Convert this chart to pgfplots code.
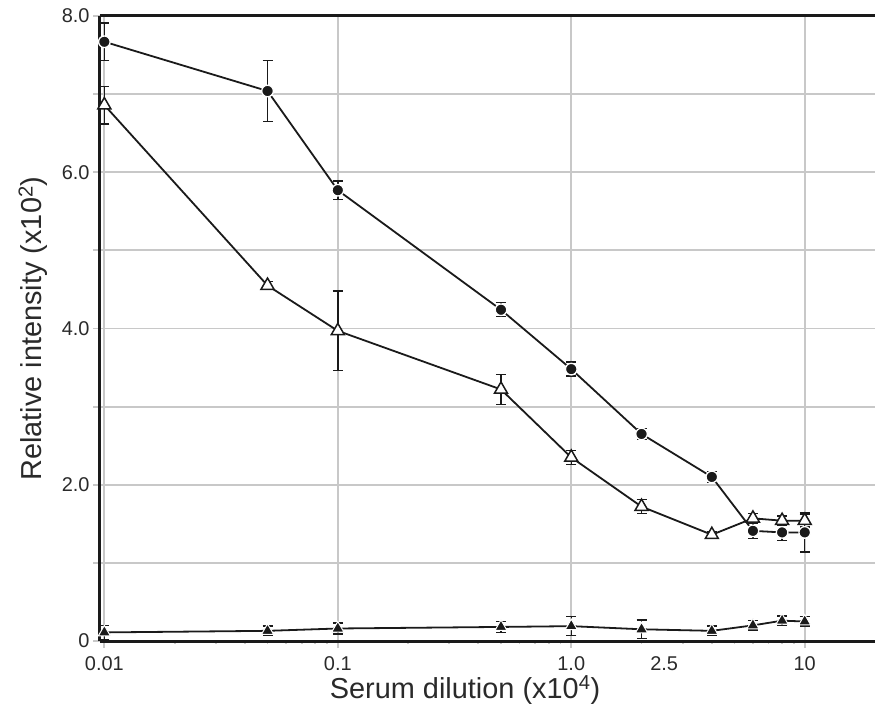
\documentclass[border=0pt]{standalone}
\usepackage{fontspec}
\setmainfont{Liberation Sans}
\usepackage{pgfplots}
\pgfplotsset{compat=1.18}
\definecolor{gridc}{HTML}{C8C8C8}
\definecolor{ink}{HTML}{1A1A1A}
\definecolor{lab}{HTML}{2A2A2A}
\begin{document}
\begin{tikzpicture}
\begin{axis}[
  name=ax,
  scale only axis, width=775bp, height=625bp,
  xmode=log, xmin=0.00958, xmax=20,
  ymin=0, ymax=8,
  axis lines*=left,
  axis line style={ink, line width=3bp},
  clip=false,
  grid=major, major grid style={gridc, line width=1.8bp},
  xtick={0.01,0.1,1,10}, xticklabels={0.01,0.1,1.0,10},
  minor xtick={}, minor ytick={},
  extra x ticks={2.5}, extra x tick labels={2.5},
  extra x tick style={grid=none, major tick style={draw=none}},
  ytick={0,1,...,8}, yticklabels={0,,2.0,,4.0,,6.0,,8.0},
  tick align=outside, major tick length=7bp,
  tick style={gridc, line width=1.8bp},
  xticklabel style={font=\fontsize{20}{23}\selectfont, text=lab, yshift=-5bp},
  yticklabel style={font=\fontsize{20}{23}\selectfont, text=lab},
  /pgf/number format/assume math mode=true,
  xlabel={Serum dilution (x10\textsuperscript{4})},
  ylabel={Relative intensity (x10\textsuperscript{2})},
  every axis y label/.style={at={(axis description cs:-0.0865,0.5)}, rotate=90, anchor=center, font=\fontsize{29}{34}\selectfont, text=lab},
  every axis x label/.style={at={(axis description cs:0.471,0)}, yshift=-49bp, anchor=center, font=\fontsize{29}{34}\selectfont, text=lab},
]
\draw[ink, line width=3bp] (rel axis cs:0,1) -- (rel axis cs:1,1);

% filled triangles
\addplot[ink, line width=1.8bp, mark=triangle*, mark size=7bp,
  mark options={fill=ink, draw=white, line width=1bp},
  error bars/.cd, y dir=both, y explicit,
  error bar style={ink, line width=1.4bp},
  error mark options={rotate=90, mark size=5bp, ink, line width=1.4bp}]
coordinates {
(0.01,0.11) +- (0,0.09)
(0.05,0.13) +- (0,0.06)
(0.1,0.16) +- (0,0.07)
(0.5,0.18) +- (0,0.07)
(1,0.19) +- (0,0.12)
(2,0.15) +- (0,0.12)
(4,0.13) +- (0,0.06)
(6,0.20) +- (0,0.06)
(8,0.26) +- (0,0.06)
(10,0.25) +- (0,0.06)
};

% open triangles
\addplot[ink, line width=1.8bp, mark=triangle*, mark size=7.5bp,
  mark options={fill=white, draw=ink, line width=1.5bp},
  error bars/.cd, y dir=both, y explicit,
  error bar style={ink, line width=1.4bp},
  error mark options={rotate=90, mark size=5bp, ink, line width=1.4bp}]
coordinates {
(0.01,6.86) +- (0,0.24)
(0.05,4.55) +- (0,0.05)
(0.1,3.97) +- (0,0.51)
(0.5,3.22) +- (0,0.195)
(1,2.35) +- (0,0.09)
(2,1.72) +- (0,0.09)
(4,1.36) +- (0,0.04)
(6,1.57) +- (0,0.06)
(8,1.54) +- (0,0.06)
(10,1.54) +- (0,0.08)
};

% filled circles
\addplot[ink, line width=1.8bp, mark=*, mark size=5.8bp,
  mark options={fill=ink, draw=white, line width=1.3bp},
  error bars/.cd, y dir=both, y explicit,
  error bar style={ink, line width=1.4bp},
  error mark options={rotate=90, mark size=5bp, ink, line width=1.4bp}]
coordinates {
(0.01,7.67) +- (0,0.24)
(0.05,7.04) +- (0,0.39)
(0.1,5.77) +- (0,0.12)
(0.5,4.24) +- (0,0.09)
(1,3.48) +- (0,0.09)
(2,2.65) +- (0,0.07)
(4,2.10) +- (0,0.07)
(6,1.41) +- (0,0.10)
(8,1.39) +- (0,0.10)
(10,1.39) +- (0,0.25)
};
\end{axis}
\pgfresetboundingbox
\path[use as bounding box] ([shift={(-100bp,-72bp)}]ax.south west) rectangle ([shift={(0bp,16bp)}]ax.north east);
\end{tikzpicture}
\end{document}
